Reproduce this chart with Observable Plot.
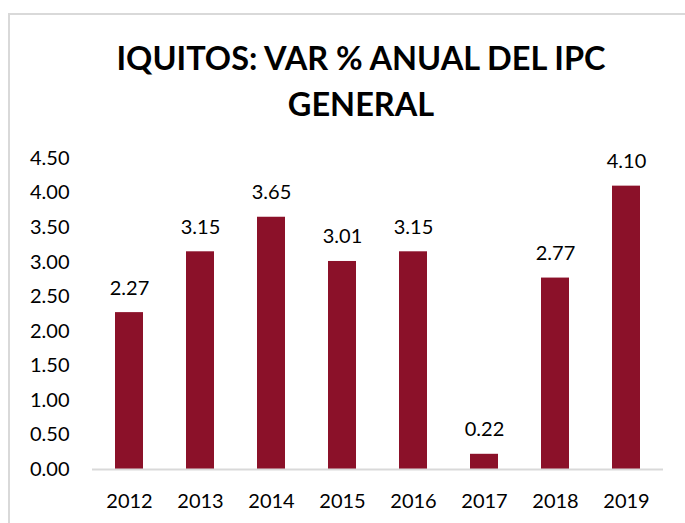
<!DOCTYPE html>
<html>
<head>
<meta charset="utf-8">
<script src="https://cdn.jsdelivr.net/npm/d3@7"></script>
<script src="https://cdn.jsdelivr.net/npm/@observablehq/plot@0.6"></script>
<style>
  html, body { margin: 0; padding: 0; background: #fff; width: 685px; height: 523px; overflow: hidden; }
  body { position: relative; font-family: Lato, "Open Sans", sans-serif; }
  #frame { position: absolute; left: 8px; top: 13px; width: 700px; height: 530px; border: 2px solid #d9d9d9; box-sizing: border-box; }
  #title { position: absolute; left: 0; top: 35px; width: 722px; text-align: center; font-weight: bold; font-size: 32.5px; line-height: 46px; color: #000; }
  #chart { position: absolute; left: 0; top: 130px; }
</style>
</head>
<body>
<div id="frame"></div>
<div id="title">IQUITOS: VAR % ANUAL DEL IPC<br>GENERAL</div>
<div id="chart"></div>
<script>
const years = ["2012", "2013", "2014", "2015", "2016", "2017", "2018", "2019"];
const values = [2.27, 3.15, 3.65, 3.01, 3.15, 0.22, 2.77, 4.10];
const yTicks = [0, 0.5, 1, 1.5, 2, 2.5, 3, 3.5, 4, 4.5];

const data = years.map((y, i) => ({year: y, value: values[i]}));

const chart = Plot.plot({
  width: 685,
  height: 393,
  marginLeft: 92,
  marginRight: 22,
  marginTop: 28,
  marginBottom: 54,
  style: {fontFamily: "Lato, 'Open Sans', sans-serif", fontSize: "20px", color: "#000", background: "transparent"},
  x: {domain: years, paddingInner: 0.61, paddingOuter: 0.305, label: null},
  y: {domain: [0, 4.5], label: null},
  marks: [
    Plot.barY(data, {x: "year", y: "value", fill: "#8b1129"}),
    Plot.ruleY([0], {stroke: "#d9d9d9", strokeWidth: 2}),
    Plot.text(data, {x: "year", y: "value", text: d => d.value.toFixed(2), lineAnchor: "bottom", dy: -18, fill: "#000", fontSize: 20}),
    Plot.axisY({ticks: yTicks, tickFormat: d => d.toFixed(2), tickSize: 0, tickPadding: 23, label: null, fontSize: 20}),
    Plot.axisX({tickSize: 0, tickPadding: 24, label: null, fontSize: 20})
  ]
});
document.getElementById("chart").appendChild(chart);
</script>
</body>
</html>
